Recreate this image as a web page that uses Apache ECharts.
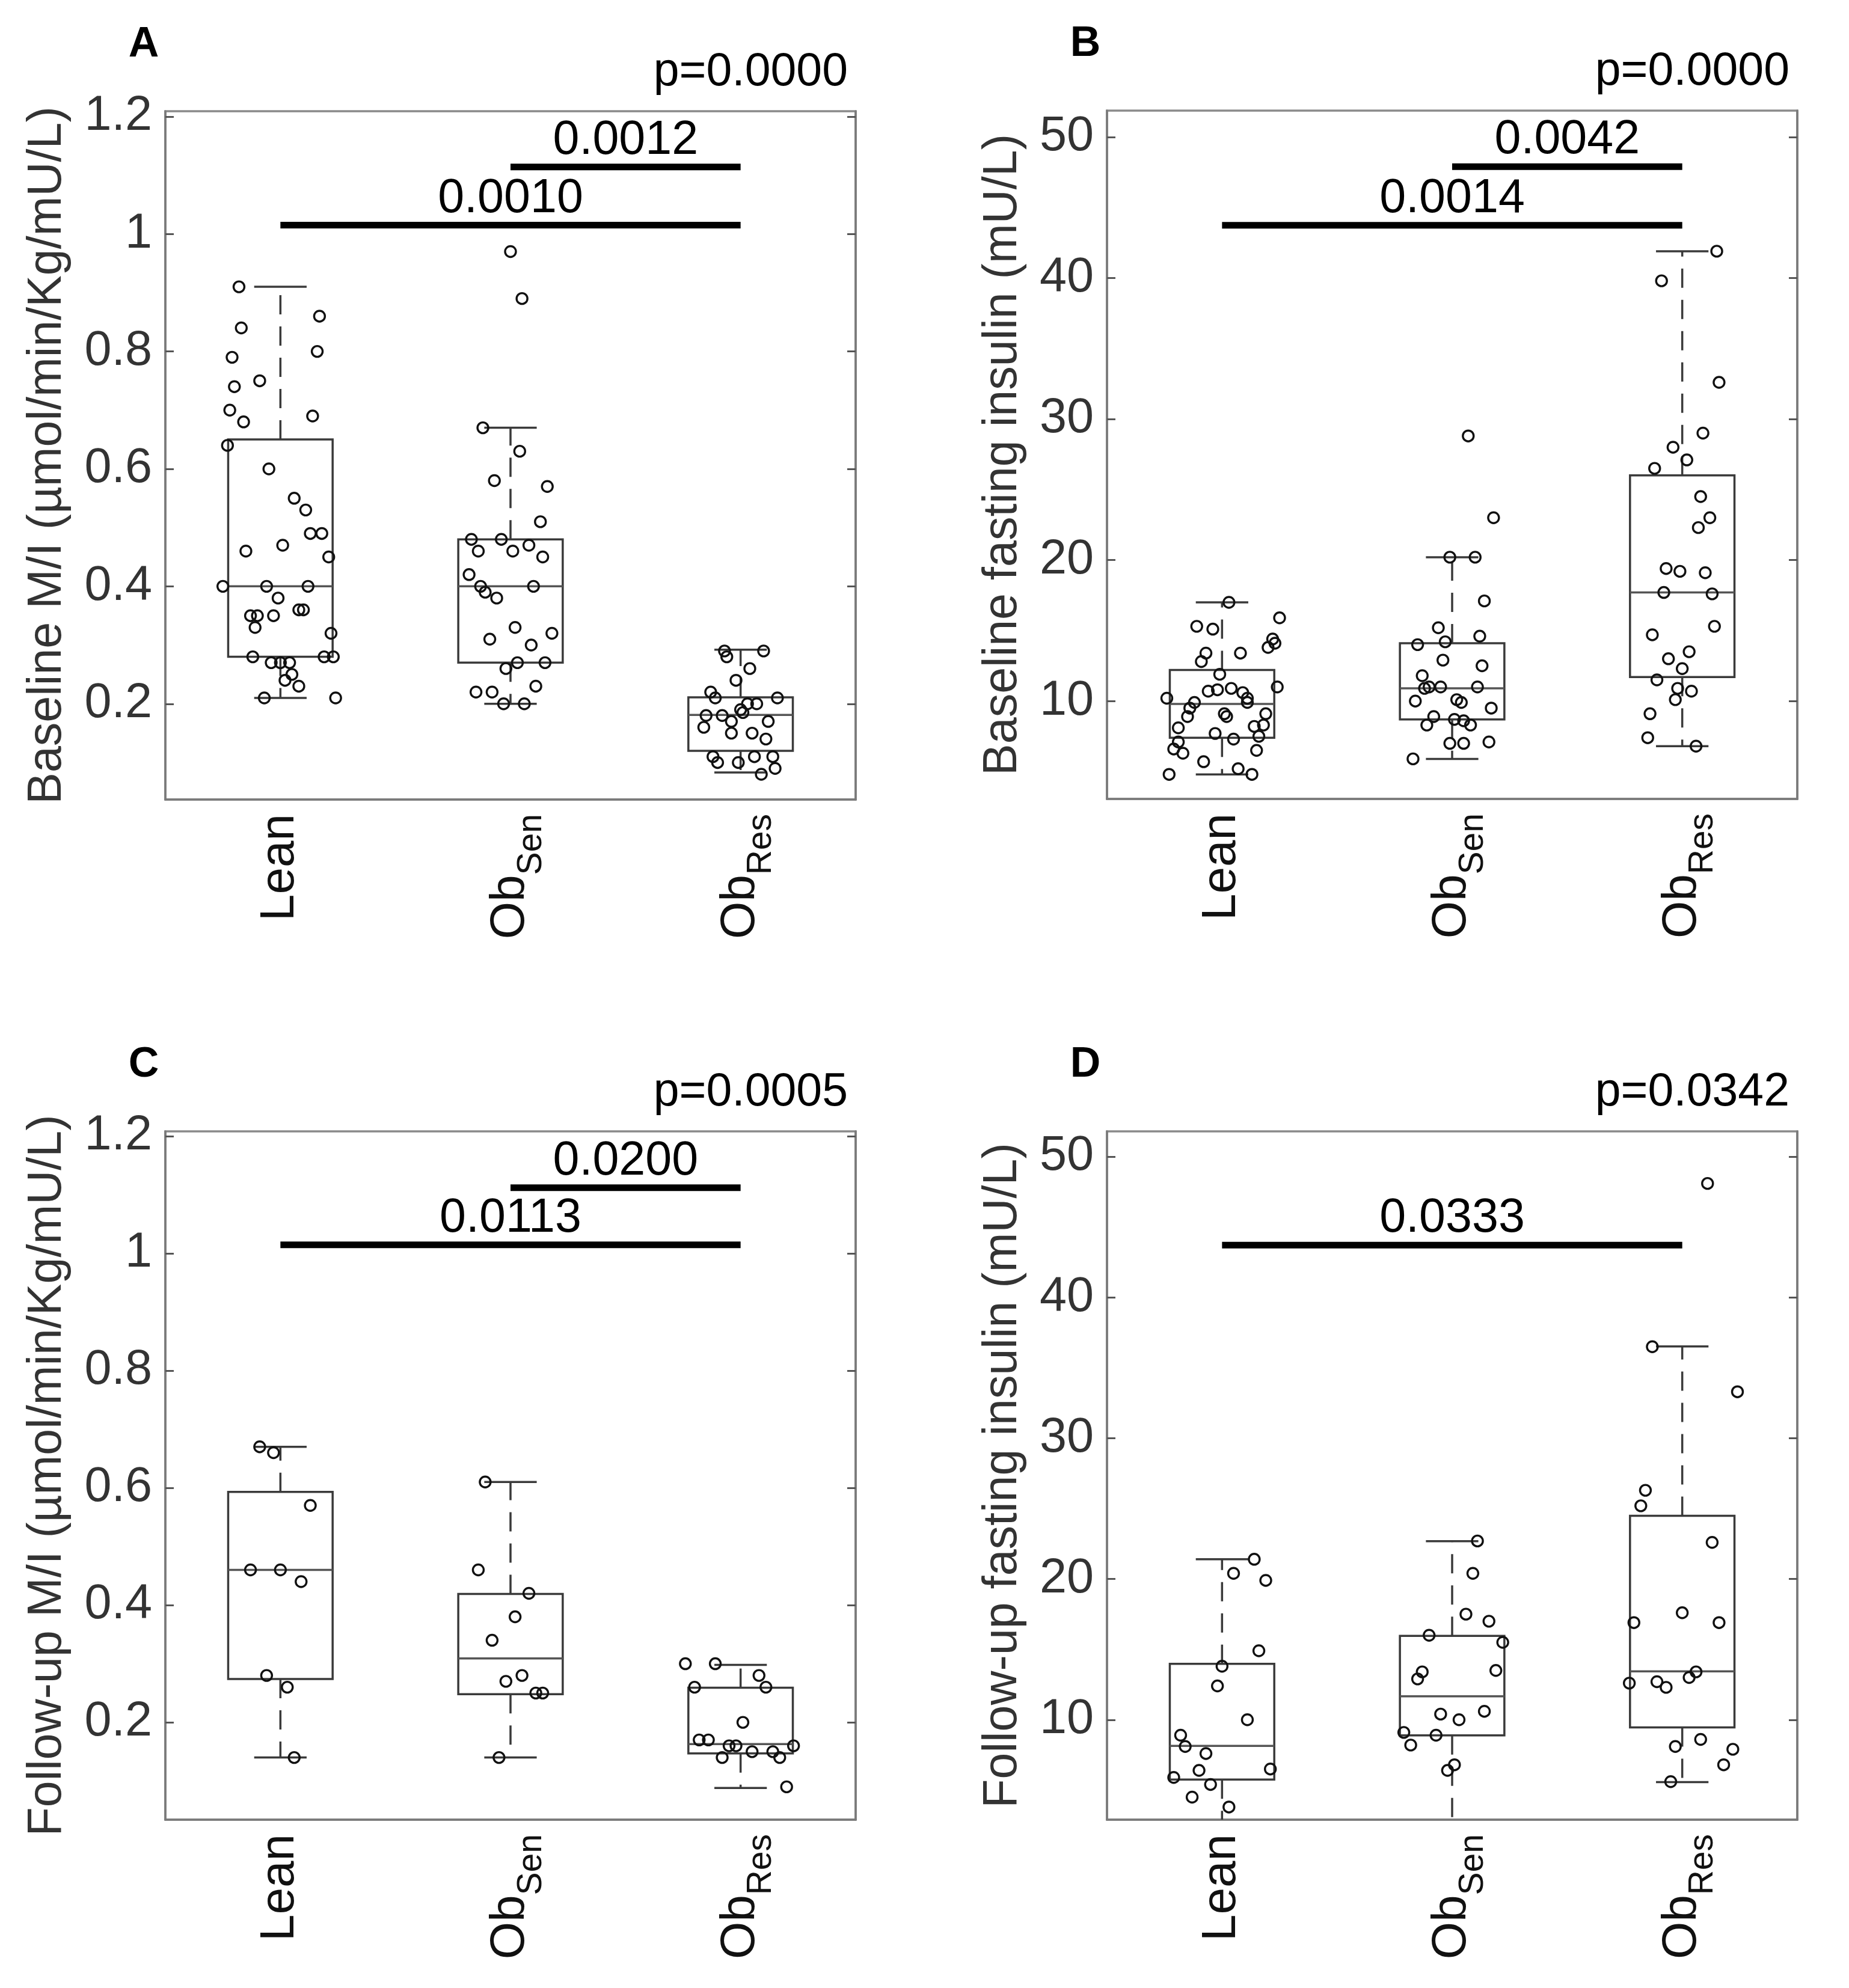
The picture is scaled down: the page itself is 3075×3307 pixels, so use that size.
<!DOCTYPE html>
<html lang="en">
<head>
<meta charset="UTF-8">
<title>Insulin sensitivity boxplots</title>
<script src="https://cdn.jsdelivr.net/npm/echarts@6.0.0/dist/echarts.min.js"></script>
<style>
  html, body { margin: 0; padding: 0; background: #fff; }
  #app { width: 3075px; height: 3307px; }
</style>
</head>
<body>
<div id="app"></div>
<script>
var FONT = '"Liberation Sans", Arial, Helvetica, sans-serif'
var groupLabels = ['Lean', '{ob|Ob}{sub|Sen}', '{ob|Ob}{sub|Res}']

// points are [jittered x position, value]; boxes are [low whisker, q1, median, q3, high whisker]
// A: baseline M/I
var aLean = [[0.82,0.91],[1.17,0.86],[0.83,0.84],[1.16,0.80],[0.79,0.79],[0.91,0.75],[0.80,0.74],[0.78,0.70],[1.14,0.69],[0.84,0.68],[0.77,0.64],[0.95,0.60],[1.06,0.55],[1.11,0.53],[1.13,0.49],[1.18,0.49],[0.85,0.46],[1.01,0.47],[1.21,0.45],[0.75,0.40],[0.94,0.40],[1.12,0.40],[0.99,0.38],[0.87,0.35],[0.90,0.35],[0.97,0.35],[1.08,0.36],[1.10,0.36],[0.89,0.33],[1.22,0.32],[0.88,0.28],[1.19,0.28],[1.23,0.28],[0.96,0.27],[1.00,0.27],[1.04,0.27],[1.05,0.25],[1.02,0.24],[1.08,0.23],[0.93,0.21],[1.24,0.21]]
var aSen = [[2.00,0.97],[2.05,0.89],[1.88,0.67],[2.04,0.63],[1.93,0.58],[2.16,0.57],[2.13,0.51],[1.83,0.48],[1.96,0.48],[1.86,0.46],[2.01,0.46],[2.08,0.47],[2.14,0.45],[1.82,0.42],[1.87,0.40],[2.10,0.40],[1.89,0.39],[1.94,0.38],[2.02,0.33],[2.18,0.32],[1.91,0.31],[2.09,0.30],[2.03,0.27],[2.15,0.27],[1.98,0.26],[2.11,0.23],[1.85,0.22],[1.92,0.22],[1.97,0.20],[2.06,0.20]]
var aRes = [[2.93,0.29],[2.94,0.28],[3.10,0.29],[3.04,0.26],[2.98,0.24],[2.87,0.22],[2.89,0.21],[3.16,0.21],[3.03,0.20],[3.07,0.20],[3.00,0.19],[2.85,0.18],[2.92,0.18],[3.01,0.185],[2.96,0.17],[3.12,0.17],[2.84,0.16],[2.96,0.15],[3.05,0.15],[3.11,0.14],[2.88,0.11],[2.90,0.10],[2.99,0.10],[3.06,0.11],[3.14,0.11],[3.15,0.09],[3.09,0.08]]
var aBoxes = [[0.21,0.28,0.40,0.65,0.91],[0.20,0.27,0.40,0.48,0.67],[0.083,0.12,0.181,0.211,0.292]]
var aSig = [[1,3,1.015],[2,3,1.114]]
var aSigText = ['0.0010','0.0012']

// B: baseline fasting insulin
var bLean = [[1.03,17.0],[1.25,15.9],[0.89,15.3],[0.96,15.1],[1.22,14.4],[1.23,14.1],[1.20,13.8],[0.93,13.4],[0.91,12.8],[1.08,13.4],[0.99,11.9],[1.24,11.0],[0.76,10.2],[0.94,10.7],[0.98,10.8],[1.04,10.9],[1.09,10.6],[1.11,10.2],[1.11,9.9],[0.88,9.9],[0.86,9.5],[1.01,9.1],[1.02,8.9],[0.85,8.9],[1.19,9.1],[1.18,8.3],[1.14,8.2],[0.81,8.1],[0.97,7.7],[1.05,7.3],[1.16,7.5],[0.81,7.1],[0.79,6.6],[0.83,6.3],[1.15,6.5],[0.92,5.7],[1.07,5.2],[1.13,4.8],[0.77,4.8]]
var bSen = [[2.07,28.8],[2.18,23.0],[1.99,20.2],[2.10,20.2],[2.14,17.1],[1.94,15.2],[2.12,14.6],[1.85,14.0],[1.97,14.2],[1.96,12.9],[2.13,12.5],[1.87,11.8],[1.88,10.9],[1.90,11.0],[1.95,11.0],[2.11,11.0],[1.84,10.0],[2.02,10.1],[2.04,9.9],[2.17,9.5],[1.92,8.9],[1.89,8.3],[2.01,8.7],[2.05,8.6],[2.08,8.3],[1.99,7.0],[2.05,7.0],[2.16,7.1],[1.83,5.9]]
var bRes = [[3.15,41.9],[2.91,39.8],[3.16,32.6],[3.09,29.0],[2.96,28.0],[3.02,27.1],[2.88,26.5],[3.08,24.5],[3.12,23.0],[3.07,22.3],[2.93,19.4],[2.99,19.2],[3.10,19.1],[2.92,17.7],[3.13,17.6],[3.14,15.3],[2.87,14.7],[3.03,13.5],[2.94,13.0],[3.00,12.3],[2.89,11.5],[2.98,10.9],[3.04,10.7],[2.97,10.1],[2.86,9.1],[2.85,7.4],[3.06,6.8]]
var bBoxes = [[4.8,7.4,9.8,12.2,17.0],[5.9,8.7,10.9,14.1,20.2],[6.8,11.7,17.7,26.0,41.9]]
var bSig = [[1,3,43.74],[2,3,47.9]]
var bSigText = ['0.0014','0.0042']

// C: follow-up M/I
var cLean = [[0.91,0.67],[0.97,0.66],[1.13,0.57],[0.87,0.46],[1.00,0.46],[1.09,0.44],[0.94,0.28],[1.03,0.26],[1.06,0.14]]
var cSen = [[1.89,0.61],[1.86,0.46],[2.08,0.42],[2.02,0.38],[1.92,0.34],[1.98,0.27],[2.05,0.28],[2.11,0.25],[2.14,0.25],[1.95,0.14]]
var cRes = [[2.76,0.30],[2.89,0.30],[3.08,0.28],[2.80,0.26],[3.11,0.26],[3.01,0.20],[2.82,0.17],[2.86,0.17],[2.95,0.16],[2.98,0.16],[3.05,0.15],[3.14,0.15],[3.23,0.16],[2.92,0.14],[3.17,0.14],[3.20,0.09]]
var cBoxes = [[0.14,0.274,0.46,0.593,0.67],[0.14,0.248,0.309,0.419,0.61],[0.088,0.147,0.163,0.259,0.298]]
var cSig = [[1,3,1.0145],[2,3,1.112]]
var cSigText = ['0.0113','0.0200']

// D: follow-up fasting insulin
var dLean = [[1.14,21.4],[1.05,20.4],[1.19,19.9],[1.16,14.9],[1.00,13.8],[0.98,12.4],[1.11,10.0],[0.82,8.9],[0.84,8.1],[0.93,7.6],[1.21,6.5],[0.90,6.4],[0.79,5.9],[0.95,5.4],[0.87,4.5],[1.03,3.8]]
var dSen = [[2.11,22.7],[2.09,20.4],[2.06,17.5],[2.16,17.0],[1.90,16.0],[2.22,15.5],[1.87,13.4],[1.85,12.9],[2.19,13.5],[1.95,10.4],[2.03,10.0],[2.14,10.6],[1.79,9.1],[1.93,8.9],[1.82,8.2],[2.01,6.8],[1.98,6.4]]
var dRes = [[3.11,48.1],[2.87,36.5],[3.24,33.3],[2.84,26.3],[2.82,25.2],[3.13,22.6],[3.00,17.6],[2.79,16.9],[3.16,16.9],[2.77,12.6],[2.89,12.7],[2.93,12.3],[3.03,13.0],[3.06,13.4],[2.97,8.1],[3.08,8.6],[3.22,7.9],[3.18,6.8],[2.95,5.6]]
var dBoxes = [[2.0,5.75,8.14,13.97,21.4],[2.0,8.89,11.67,15.96,22.68],[5.57,9.46,13.44,24.49,36.52]]
var dSig = [[1,3,43.72]]
var dSigText = ['0.0333']

var miTicks = [0.2, 0.4, 0.6, 0.8, 1, 1.2]
var insTicks = [10, 20, 30, 40, 50]

var panels = [
  { letter: 'A', p: 'p=0.0000', name: 'Baseline M/I (\u00b5mol/min/Kg/mU/L)', pts: [aLean, aSen, aRes], boxes: aBoxes, sig: aSig, sigText: aSigText, min: 0.037, max: 1.209, ticks: miTicks, left: 275, top: 185, gap: 156 },
  { letter: 'B', p: 'p=0.0000', name: 'Baseline fasting insulin (mU/L)', pts: [bLean, bSen, bRes], boxes: bBoxes, sig: bSig, sigText: bSigText, min: 3.06, max: 51.87, ticks: insTicks, left: 1841, top: 184, gap: 133 },
  { letter: 'C', p: 'p=0.0005', name: 'Follow-up M/I (\u00b5mol/min/Kg/mU/L)', pts: [cLean, cSen, cRes], boxes: cBoxes, sig: cSig, sigText: cSigText, min: 0.034, max: 1.208, ticks: miTicks, left: 275, top: 1882, gap: 156 },
  { letter: 'D', p: 'p=0.0342', name: 'Follow-up fasting insulin (mU/L)', pts: [dLean, dSen, dRes], boxes: dBoxes, sig: dSig, sigText: dSigText, min: 2.9, max: 51.8, ticks: insTicks, left: 1841, top: 1882, gap: 133 }
]

var W = 1148, H = 1145
var grid = [], xAxis = [], yAxis = [], series = [], graphic = []

panels.forEach(function (pn, i) {
  grid.push({ left: pn.left, top: pn.top, width: W, height: H, show: true, borderColor: '#8a8a8a', borderWidth: 3.5, backgroundColor: '#fff' })

  xAxis.push({
    type: 'value', gridIndex: i, min: 0.5, max: 3.5,
    axisLine: { show: true, lineStyle: { color: '#7a7a7a', width: 3.5 } },
    axisTick: { show: false },
    splitLine: { show: false },
    axisLabel: {
      customValues: [1, 2, 3], rotate: 90, margin: 24,
      fontSize: 80, fontFamily: FONT, color: '#111',
      formatter: function (v) { return groupLabels[Math.round(v) - 1] },
      rich: {
        ob: { fontSize: 80, fontFamily: FONT, color: '#111' },
        sub: { fontSize: 57, fontFamily: FONT, color: '#111', padding: [70, 0, 0, 0] }
      }
    }
  })

  var tickStyle = { show: true, inside: true, length: 14, customValues: pn.ticks, lineStyle: { color: '#555', width: 3 } }
  yAxis.push({
    type: 'value', gridIndex: i, position: 'left', min: pn.min, max: pn.max,
    name: pn.name, nameLocation: 'middle', nameGap: pn.gap,
    nameTextStyle: { fontSize: 79, fontFamily: FONT, color: '#333' },
    axisLine: { show: true, lineStyle: { color: '#7a7a7a', width: 3.5 } },
    axisTick: tickStyle,
    splitLine: { show: false },
    axisLabel: { customValues: pn.ticks, margin: 22, fontSize: 81, fontFamily: FONT, color: '#333' }
  })
  yAxis.push({
    type: 'value', gridIndex: i, position: 'right', min: pn.min, max: pn.max,
    axisLine: { show: true, lineStyle: { color: '#7a7a7a', width: 3.5 } },
    axisTick: tickStyle,
    splitLine: { show: false },
    axisLabel: { show: false }
  })

  // boxes with dashed whiskers
  series.push({
    type: 'custom', xAxisIndex: i, yAxisIndex: i * 2, clip: true, z: 2,
    data: pn.boxes.map(function (b, k) { return [k + 1].concat(b) }),
    renderItem: function (params, api) {
      var x = api.value(0)
      var lo = api.value(1), q1 = api.value(2), med = api.value(3), q3 = api.value(4), hi = api.value(5)
      var hw = 0.227, cw = 0.114
      var solid = { stroke: '#3a3a3a', lineWidth: 3.5, fill: null }
      var dash = { stroke: '#3a3a3a', lineWidth: 3.5, lineDash: [32, 20], fill: null }
      function seg(x1, y1, x2, y2, st) {
        var a = api.coord([x1, y1]), b = api.coord([x2, y2])
        return { type: 'line', shape: { x1: a[0], y1: a[1], x2: b[0], y2: b[1] }, style: st }
      }
      var tl = api.coord([x - hw, q3]), br = api.coord([x + hw, q1])
      return {
        type: 'group',
        children: [
          seg(x, q3, x, hi, dash),
          seg(x, q1, x, lo, dash),
          seg(x - cw, hi, x + cw, hi, solid),
          seg(x - cw, lo, x + cw, lo, solid),
          { type: 'rect', shape: { x: tl[0], y: tl[1], width: br[0] - tl[0], height: br[1] - tl[1] }, style: { stroke: '#3a3a3a', lineWidth: 3.5, fill: 'none' } },
          seg(x - hw, med, x + hw, med, { stroke: '#555', lineWidth: 3.5 })
        ]
      }
    }
  })

  // jittered points
  pn.pts.forEach(function (pts) {
    series.push({
      type: 'scatter', xAxisIndex: i, yAxisIndex: i * 2, z: 3,
      data: pts, symbol: 'circle', symbolSize: 18,
      itemStyle: { color: 'rgba(0,0,0,0)', borderColor: '#111', borderWidth: 3.4, opacity: 1 }
    })
  })

  // significance bars
  series.push({
    type: 'custom', xAxisIndex: i, yAxisIndex: i * 2, z: 4,
    data: pn.sig,
    renderItem: function (params, api) {
      var a = api.coord([api.value(0), api.value(2)])
      var b = api.coord([api.value(1), api.value(2)])
      return {
        type: 'group',
        children: [
          { type: 'line', shape: { x1: a[0], y1: a[1], x2: b[0], y2: b[1] }, style: { stroke: '#000', lineWidth: 11 } },
          { type: 'text', x: (a[0] + b[0]) / 2, y: a[1] - 4, style: { text: pn.sigText[params.dataIndex], align: 'center', verticalAlign: 'bottom', fontSize: 79, fontFamily: FONT, fill: '#000' } }
        ]
      }
    }
  })

  graphic.push({ type: 'text', x: pn.left - 36, y: pn.top - 110, style: { text: pn.letter, align: 'center', verticalAlign: 'middle', font: 'bold 70px ' + FONT, fill: '#000' } })
  graphic.push({ type: 'text', x: pn.left + W - 13, y: pn.top - 64, style: { text: pn.p, align: 'right', verticalAlign: 'middle', font: '77px ' + FONT, fill: '#000' } })
})

var chart = echarts.init(document.getElementById('app'), null, { renderer: 'canvas' })
chart.setOption({
  animation: false,
  backgroundColor: '#fff',
  grid: grid,
  xAxis: xAxis,
  yAxis: yAxis,
  series: series,
  graphic: graphic
})
</script>
</body>
</html>
